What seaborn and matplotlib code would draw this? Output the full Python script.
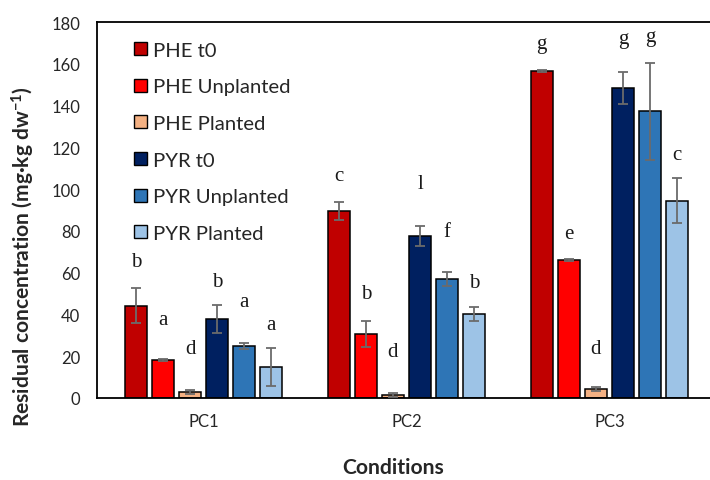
import matplotlib
matplotlib.use("Agg")
import matplotlib.pyplot as plt
import seaborn as sns
import pandas as pd
from matplotlib.patches import Patch

# ---------------- data ----------------
conditions = ["PC1", "PC2", "PC3"]
series = ["PHE t0", "PHE Unplanted", "PHE Planted",
          "PYR t0", "PYR Unplanted", "PYR Planted"]
phe_t0 = [44.2, 89.5, 156.7]
phe_unplanted = [18.2, 30.6, 66.1]
phe_planted = [2.7, 1.5, 4.3]
pyr_t0 = [38.0, 77.5, 148.4]
pyr_unplanted = [24.9, 57.0, 137.2]
pyr_planted = [14.7, 40.2, 94.5]

phe_t0_err = [8.3, 4.2, 0.5]
phe_unplanted_err = [0.5, 6.3, 0.3]
phe_planted_err = [1.0, 1.0, 1.0]
pyr_t0_err = [6.7, 4.8, 7.8]
pyr_unplanted_err = [1.5, 3.2, 23.2]
pyr_planted_err = [9.1, 3.4, 10.8]

letters_phe_t0 = ["b", "c", "g"]
letters_phe_unplanted = ["a", "b", "e"]
letters_phe_planted = ["d", "d", "d"]
letters_pyr_t0 = ["b", "l", "g"]
letters_pyr_unplanted = ["a", "f", "g"]
letters_pyr_planted = ["a", "b", "c"]

values = [phe_t0, phe_unplanted, phe_planted, pyr_t0, pyr_unplanted, pyr_planted]
errors = [phe_t0_err, phe_unplanted_err, phe_planted_err,
          pyr_t0_err, pyr_unplanted_err, pyr_planted_err]
letters = [letters_phe_t0, letters_phe_unplanted, letters_phe_planted,
           letters_pyr_t0, letters_pyr_unplanted, letters_pyr_planted]

# ---------------- styling / layout ----------------
colors = ["#C00000", "#FF0000", "#F4B183", "#002060", "#2E75B6", "#9DC3E6"]
# gap between error-bar top and letter (data units), hand placed in the original
letter_gap = [[13, 13, 12.3], [19, 13, 12.4], [20, 19.7, 18.5],
              [11, 20.5, 15.7], [19.6, 19.6, 12.7], [11.6, 11.6, 11.5]]

rows = []
for s, vals in zip(series, values):
    for c, v in zip(conditions, vals):
        rows.append({"Conditions": c, "Series": s, "Value": v})
df = pd.DataFrame(rows)

sns.set_style("white")
plt.rcParams["font.family"] = ["Lato", "DejaVu Sans"]
plt.rcParams["mathtext.default"] = "regular"

fig = plt.figure(figsize=(7.10, 4.81), dpi=100)
ax = fig.add_axes([97 / 710, 82 / 481, 619 / 710, 376 / 481])

sns.barplot(data=df, x="Conditions", y="Value", hue="Series",
            hue_order=series, order=conditions, palette=colors,
            saturation=1, edgecolor="black", linewidth=1.1, width=0.8, gap=0.2,
            errorbar=None, legend=False, ax=ax)

bar_containers = list(ax.containers)
for i, cont in enumerate(bar_containers):
    for j, bar in enumerate(cont.patches):
        x = bar.get_x() + bar.get_width() / 2
        v = values[i][j]
        e = errors[i][j]
        ax.errorbar(x, v, yerr=e, fmt="none", ecolor="#6b6b6b",
                    elinewidth=1.3, capsize=3.5, capthick=1.3, zorder=5)
        ax.text(x, v + e + letter_gap[i][j], letters[i][j],
                ha="center", va="center", fontsize=15,
                family=["Liberation Serif", "DejaVu Serif"], color="#1a1a1a")

ax.set_ylim(0, 180)
ax.set_yticks(range(0, 181, 20))
ax.tick_params(axis="both", length=0, labelsize=12, colors="#262626")
ax.tick_params(axis="y", pad=12)
ax.tick_params(axis="x", pad=11)

ax.set_ylabel("Residual concentration (mg·kg dw$^{-1}$)", fontsize=15.1,
              fontweight="bold")
ax.yaxis.set_label_coords(-0.0974, 0.38)
ax.set_xlabel("Conditions", fontsize=15.2, fontweight="bold")
ax.xaxis.set_label_coords(0.479, -0.158)

for side in ["left", "bottom", "top"]:
    ax.spines[side].set_visible(True)
    ax.spines[side].set_color("black")
    ax.spines[side].set_linewidth(1.3)
ax.spines["right"].set_visible(False)

handles = [Patch(facecolor=c, edgecolor="black", linewidth=1.0) for c in colors]
ax.legend(handles, series, loc="upper left", bbox_to_anchor=(0.06, 0.948),
          frameon=False, fontsize=14.6, handlelength=0.62, handleheight=0.62,
          handletextpad=0.3, labelspacing=0.97, borderpad=0, borderaxespad=0)

fig.savefig("out.png", dpi=100)
